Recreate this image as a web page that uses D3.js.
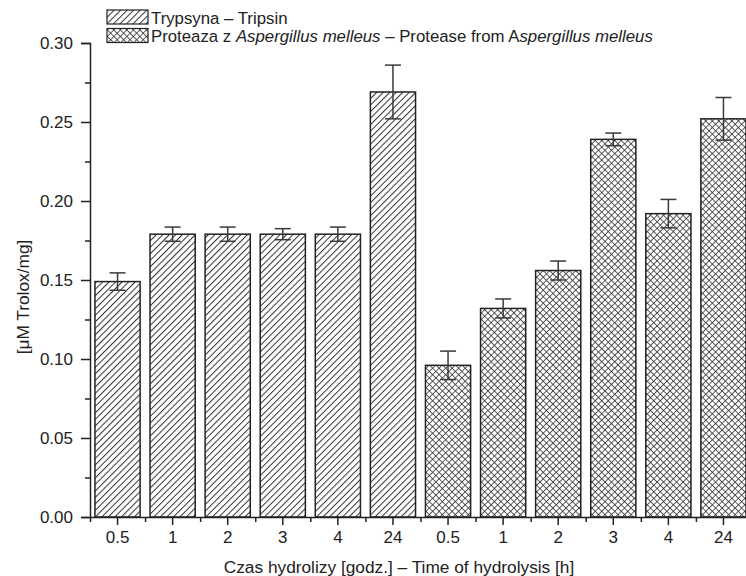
<!DOCTYPE html>
<html>
<head>
<meta charset="utf-8">
<script src="https://cdn.jsdelivr.net/npm/d3@7"></script>
<style>
  html, body { margin: 0; padding: 0; background: #fff; }
  svg { display: block; font-family: "Liberation Sans", Arial, sans-serif; }
</style>
</head>
<body>
<svg id="chart" width="746" height="576"></svg>
<script>
// ---- data ----
const categories = ["0.5", "1", "2", "3", "4", "24"];
const trypsinValues = [0.149, 0.179, 0.179, 0.179, 0.179, 0.269];
const trypsinErrors = [0.0055, 0.0045, 0.0045, 0.0035, 0.0045, 0.017];
const proteaseValues = [0.096, 0.132, 0.156, 0.239, 0.192, 0.252];
const proteaseErrors = [0.009, 0.006, 0.006, 0.004, 0.009, 0.0135];
const yTickValues = [0, 0.05, 0.10, 0.15, 0.20, 0.25, 0.30];
const yMinorTickValues = [0.025, 0.075, 0.125, 0.175, 0.225, 0.275];
const legendLabels = [
  [{t: "Trypsyna – Tripsin", i: false}],
  [{t: "Proteaza z ", i: false}, {t: "Aspergillus melleus", i: true}, {t: " – Protease from A", i: false}, {t: "spergillus melleus", i: true}]
];
const xTitle = "Czas hydrolizy [godz.] – Time of hydrolysis [h]";
const yTitle = "[μM Trolox/mg]";

const rows = [];
categories.forEach((c, i) => rows.push({cat: c, v: trypsinValues[i], e: trypsinErrors[i], s: 0}));
categories.forEach((c, i) => rows.push({cat: c, v: proteaseValues[i], e: proteaseErrors[i], s: 1}));

// ---- layout ----
const svg = d3.select("#chart");
const x0 = 90, yBottom = 517, yTop = 43;
const x = d3.scaleBand().domain(d3.range(rows.length)).range([x0, 751]).paddingInner(0.18).paddingOuter(0.09);
const y = d3.scaleLinear().domain([0, 0.30]).range([yBottom, yTop]);
const ink = "#222";
const fs = 17.3;

// patterns
const defs = svg.append("defs");
const p1 = defs.append("pattern").attr("id", "hatch").attr("patternUnits", "userSpaceOnUse")
  .attr("width", 4.6).attr("height", 4.6).attr("patternTransform", "rotate(45)");
p1.append("rect").attr("width", 4.6).attr("height", 4.6).attr("fill", "#fff");
p1.append("line").attr("x1", 0).attr("y1", 0).attr("x2", 0).attr("y2", 4.6).attr("stroke", "#333").attr("stroke-width", 2.0);
const p2 = defs.append("pattern").attr("id", "cross").attr("patternUnits", "userSpaceOnUse")
  .attr("width", 4.6).attr("height", 4.6).attr("patternTransform", "rotate(45)");
p2.append("rect").attr("width", 4.6).attr("height", 4.6).attr("fill", "#fff");
p2.append("line").attr("x1", 0).attr("y1", 0).attr("x2", 0).attr("y2", 4.6).attr("stroke", "#2a2a2a").attr("stroke-width", 1.5);
p2.append("line").attr("x1", 0).attr("y1", 0).attr("x2", 4.6).attr("y2", 0).attr("stroke", "#2a2a2a").attr("stroke-width", 1.5);
const fills = ["url(#hatch)", "url(#cross)"];

// bars
svg.append("g").selectAll("rect").data(rows).join("rect")
  .attr("x", (d, i) => x(i))
  .attr("y", d => y(d.v))
  .attr("width", x.bandwidth())
  .attr("height", d => y(0) - y(d.v))
  .attr("fill", d => fills[d.s])
  .attr("stroke", ink).attr("stroke-width", 1.5);

// error bars
const eg = svg.append("g").attr("stroke", "#3a3a3a").attr("stroke-width", 1.5);
rows.forEach((d, i) => {
  const cx = x(i) + x.bandwidth() / 2;
  eg.append("line").attr("x1", cx).attr("x2", cx).attr("y1", y(d.v + d.e)).attr("y2", y(d.v - d.e));
  eg.append("line").attr("x1", cx - 8).attr("x2", cx + 8).attr("y1", y(d.v + d.e)).attr("y2", y(d.v + d.e));
  eg.append("line").attr("x1", cx - 8).attr("x2", cx + 8).attr("y1", y(d.v - d.e)).attr("y2", y(d.v - d.e));
});

// y axis
const yAxis = svg.append("g").attr("transform", `translate(${x0},0)`)
  .call(d3.axisLeft(y).tickValues(yTickValues).tickFormat(d3.format(".2f")).tickSize(9).tickPadding(8));
const yMinor = svg.append("g").attr("transform", `translate(${x0},0)`)
  .call(d3.axisLeft(y).tickValues(yMinorTickValues).tickFormat("").tickSize(5));
yMinor.select(".domain").remove();

// x axis
const xAxis = svg.append("g").attr("transform", `translate(0,${yBottom})`)
  .call(d3.axisBottom(x).tickFormat(i => rows[i].cat).tickSize(8).tickPadding(6).tickSizeOuter(0));
const bounds = d3.range(rows.length).map(i => x(i) - x.step() * x.paddingInner() / 2);
const xMinorScale = d3.scaleLinear().domain([0, 1]).range([0, 1]);
const xMinor = svg.append("g").attr("transform", `translate(0,${yBottom})`)
  .call(d3.axisBottom(xMinorScale).tickValues(bounds).tickFormat("").tickSize(5));
xMinor.select(".domain").remove();

[yAxis, yMinor, xAxis, xMinor].forEach(g => {
  g.selectAll("line").attr("stroke", ink).attr("stroke-width", 1.5);
  g.selectAll(".domain").attr("stroke", ink).attr("stroke-width", 1.5);
  g.selectAll("text").attr("font-size", 17).attr("fill", ink).attr("font-family", "Liberation Sans, Arial, sans-serif");
});
xAxis.select(".domain").attr("d", `M${x0},0.5H746`);

// axis titles
svg.append("text").attr("x", 399).attr("y", 573).attr("text-anchor", "middle")
  .attr("font-size", fs).attr("fill", ink).text(xTitle);
svg.append("text").attr("transform", "translate(29,297) rotate(-90)").attr("text-anchor", "middle")
  .attr("font-size", fs).attr("fill", ink).text(yTitle);

// legend
const leg = svg.append("g");
legendLabels.forEach((parts, k) => {
  const base = 23.5 + k * 18.5;
  leg.append("rect").attr("x", 107).attr("y", base - 13.5).attr("width", 41).attr("height", 14)
    .attr("fill", fills[k]).attr("stroke", ink).attr("stroke-width", 1.2);
  const t = leg.append("text").attr("x", 151).attr("y", base).attr("font-size", 16.8).attr("fill", ink);
  parts.forEach(p => t.append("tspan").attr("font-style", p.i ? "italic" : "normal").text(p.t));
});
</script>
</body>
</html>
